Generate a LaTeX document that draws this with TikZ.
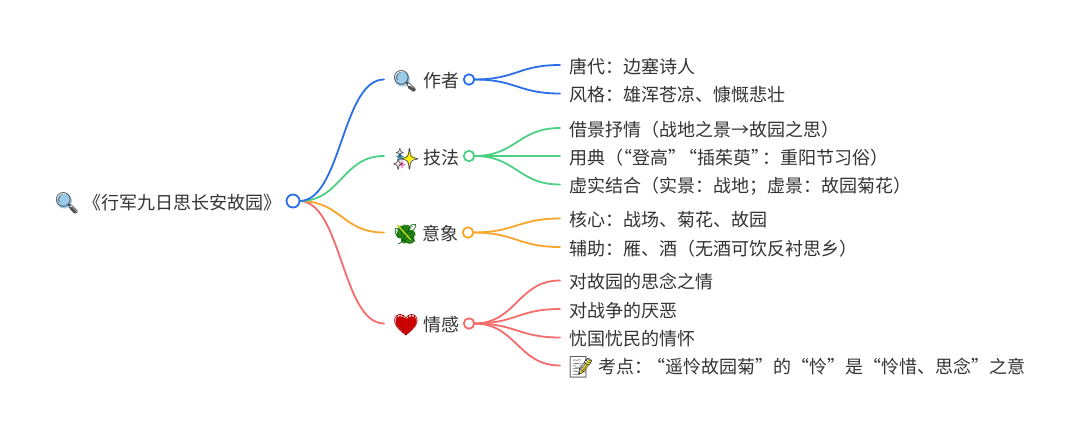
\documentclass[tikz,border=0pt]{standalone}
\usepackage{fontspec}
\setmainfont{Noto Sans CJK SC}
\newfontfamily\emojifont{Noto Emoji}
\definecolor{cblue}{HTML}{2A6FE8}
\definecolor{cgreen}{HTML}{4CD184}
\definecolor{corange}{HTML}{F9A52B}
\definecolor{cred}{HTML}{F56C6C}
\definecolor{ctext}{HTML}{333333}
\definecolor{lens}{HTML}{9CCBEA}
\definecolor{leafgreen}{HTML}{2E8B1E}
\tikzset{
  x=1pt,y=-1pt,
  txt/.style={font=\fontsize{18}{22}\selectfont,text=ctext,inner sep=0pt,outer sep=0pt,anchor=west,text height=15.6pt,text depth=5pt,yshift=-3pt},
  dot/.style={circle,draw=#1,fill=white,line width=1.8pt,minimum size=10.5pt,inner sep=0pt,outer sep=0pt},
  rootdot/.style={dot=#1,minimum size=13pt},
  link/.style={draw=#1,line width=1.8pt,line cap=round},
  emo/.style={font=\fontsize{#1}{#1}\emojifont,inner sep=0pt,text=black!75},
}
\newcommand{\qk}{\kern-9pt }
\newcommand{\fcolon}{^^^^ff1a}
\newcommand{\flp}{^^^^ff08}
\newcommand{\frp}{^^^^ff09}
\newcommand{\fsemi}{^^^^ff1b}
\begin{document}
\begin{tikzpicture}
\useasboundingbox (0,0) rectangle (1080,432);
% root
\node[rootdot=cblue] (root) at (293,201) {};
\node[txt,anchor=center] (roottxt) at (182,201.5) {《行军九日思长安故园》};
% level 1 dots
\node[dot=cblue] (d1) at (469,79.5) {};
\node[dot=cgreen] (d2) at (469,156) {};
\node[dot=corange] (d3) at (468,232.5) {};
\node[dot=cred] (d4) at (469,323.5) {};
\coordinate (e1) at (384,79.5);
\coordinate (e2) at (384,156);
\coordinate (e3) at (384,232.5);
\coordinate (e4) at (384,323.5);
\node[txt] (t1) at (423,79.5) {作者};
\node[txt] (t2) at (423,156) {技法};
\node[txt] (t3) at (422,232.5) {意象};
\node[txt] (t4) at (423,323.5) {情感};
% leaves
\coordinate (a1) at (560,65);
\coordinate (a2) at (560,93.5);
\coordinate (b1) at (560,128);
\coordinate (b2) at (560,156);
\coordinate (b3) at (560,184.5);
\coordinate (c1) at (560,218.5);
\coordinate (c2) at (560,247);
\coordinate (f1) at (560,280.5);
\coordinate (f2) at (560,309);
\coordinate (f3) at (560,337.5);
\coordinate (f4) at (560,365.5);
\node[txt] (la1) at (569,65) {唐代\fcolon 边塞诗人};
\node[txt] (la2) at (569,93.5) {风格\fcolon 雄浑苍凉、慷慨悲壮};
\node[txt] (lb1) at (569,128) {借景抒情\flp 战地之景→故园之思\frp};
\node[txt] (lb2) at (569,156) {用典\flp\qk “登高”\kern-7pt “插茱萸”\kern-7pt \fcolon 重阳节习俗\frp};
\node[txt] (lb3) at (569,184.5) {虚实结合\flp 实景\fcolon 战地\fsemi 虚景\fcolon 故园菊花\frp};
\node[txt] (lc1) at (569,218.5) {核心\fcolon 战场、菊花、故园};
\node[txt] (lc2) at (569,247) {辅助\fcolon 雁、酒\flp 无酒可饮反衬思乡\frp};
\node[txt] (lf1) at (569,280.5) {对故园的思念之情};
\node[txt] (lf2) at (569,309) {对战争的厌恶};
\node[txt] (lf3) at (569,337.5) {忧国忧民的情怀};
\node[txt] (lf4) at (598,365.5) {考点\fcolon\kern-5pt “遥怜故园菊”的“怜”是“怜惜、思念”之意};
% connectors
\foreach \e/\c in {e4/cred,e3/corange,e2/cgreen,e1/cblue}{
  \draw[link=\c] (root.east) .. controls +(42,0) and +(-42,0) .. (\e);
}
\foreach \e in {a1,a2}{\draw[link=cblue] (d1.east) .. controls +(42,0) and +(-42,0) .. (\e);}
\foreach \e in {b1,b2,b3}{\draw[link=cgreen] (d2.east) .. controls +(42,0) and +(-42,0) .. (\e);}
\foreach \e in {c1,c2}{\draw[link=corange] (d3.east) .. controls +(42,0) and +(-42,0) .. (\e);}
\foreach \e in {f1,f2,f3,f4}{\draw[link=cred] (d4.east) .. controls +(42,0) and +(-42,0) .. (\e);}
% emoji: root magnifier
\draw[gray!70!black,line width=3pt,line cap=round] (71,208) -- (75,212);
\fill[lens] (64.5,201) circle (7.5pt);
\node[emo=21] (m0) at (67,203) {🔍};
% author magnifier
\draw[gray!70!black,line width=3pt,line cap=round] (409,87) -- (414,90);
\fill[lens] (402.5,79) circle (7.5pt);
\node[emo=21] (m1) at (405,81.5) {🔍};
% sparkles
\fill[yellow] (409,150) -- (411,156) -- (416.5,158) -- (411,160) -- (409,166.5) -- (407,160) -- (402,158) -- (407,156) -- cycle;
\fill[cyan!70!black] (400,152) -- (401.3,155) -- (404,156.5) -- (401.3,158) -- (400,161) -- (398.7,158) -- (396,156.5) -- (398.7,155) -- cycle;
\fill[magenta!45] (402,160) -- (403.3,163) -- (406,164.5) -- (403.3,166) -- (402,169) -- (400.7,166) -- (398,164.5) -- (400.7,163) -- cycle;
\node[emo=21] (m2) at (406,159) {✨};
% leaf
\begin{scope}[shift={(406,234.5)},rotate=-48]
  \fill[leafgreen] (0,0) ellipse (10.5pt and 6.5pt);
  \fill[leafgreen] (-4,-5) circle (3.5pt) (-4,5) circle (3.5pt) (3,-5) circle (3.5pt) (3,5) circle (3.5pt);
\end{scope}
\node[emo=20,text=green!35!black] (m3) at (405.5,234.5) {🌿};
\begin{scope}[shift={(406,234.5)},rotate=-48]
  \draw[yellow!75!green,line width=1.3pt] (-13,0) -- (7,0);
\end{scope}
% heart
\fill[red!85!black] (406,334.5) .. controls (399,329) and (395.5,325) .. (395.5,321) .. controls (395.5,316) and (401,314.5) .. (406,319) .. controls (411,314.5) and (416.5,316) .. (416.5,321) .. controls (416.5,325) and (413,329) .. (406,334.5) -- cycle;
\node[emo=21,text=red!65!black] (m4) at (406,325) {\symbol{"2764}};
% memo
\fill[white] (572,358) rectangle (588,377);
\draw[gray!60,line width=0.8pt] (575,363) -- (585,363) (575,367) -- (585,367) (575,371) -- (585,371);
\draw[yellow!90!orange,line width=2.6pt] (590,360) -- (581,373);
\node[emo=21] (m5) at (581,367) {📝};
\end{tikzpicture}
\end{document}
